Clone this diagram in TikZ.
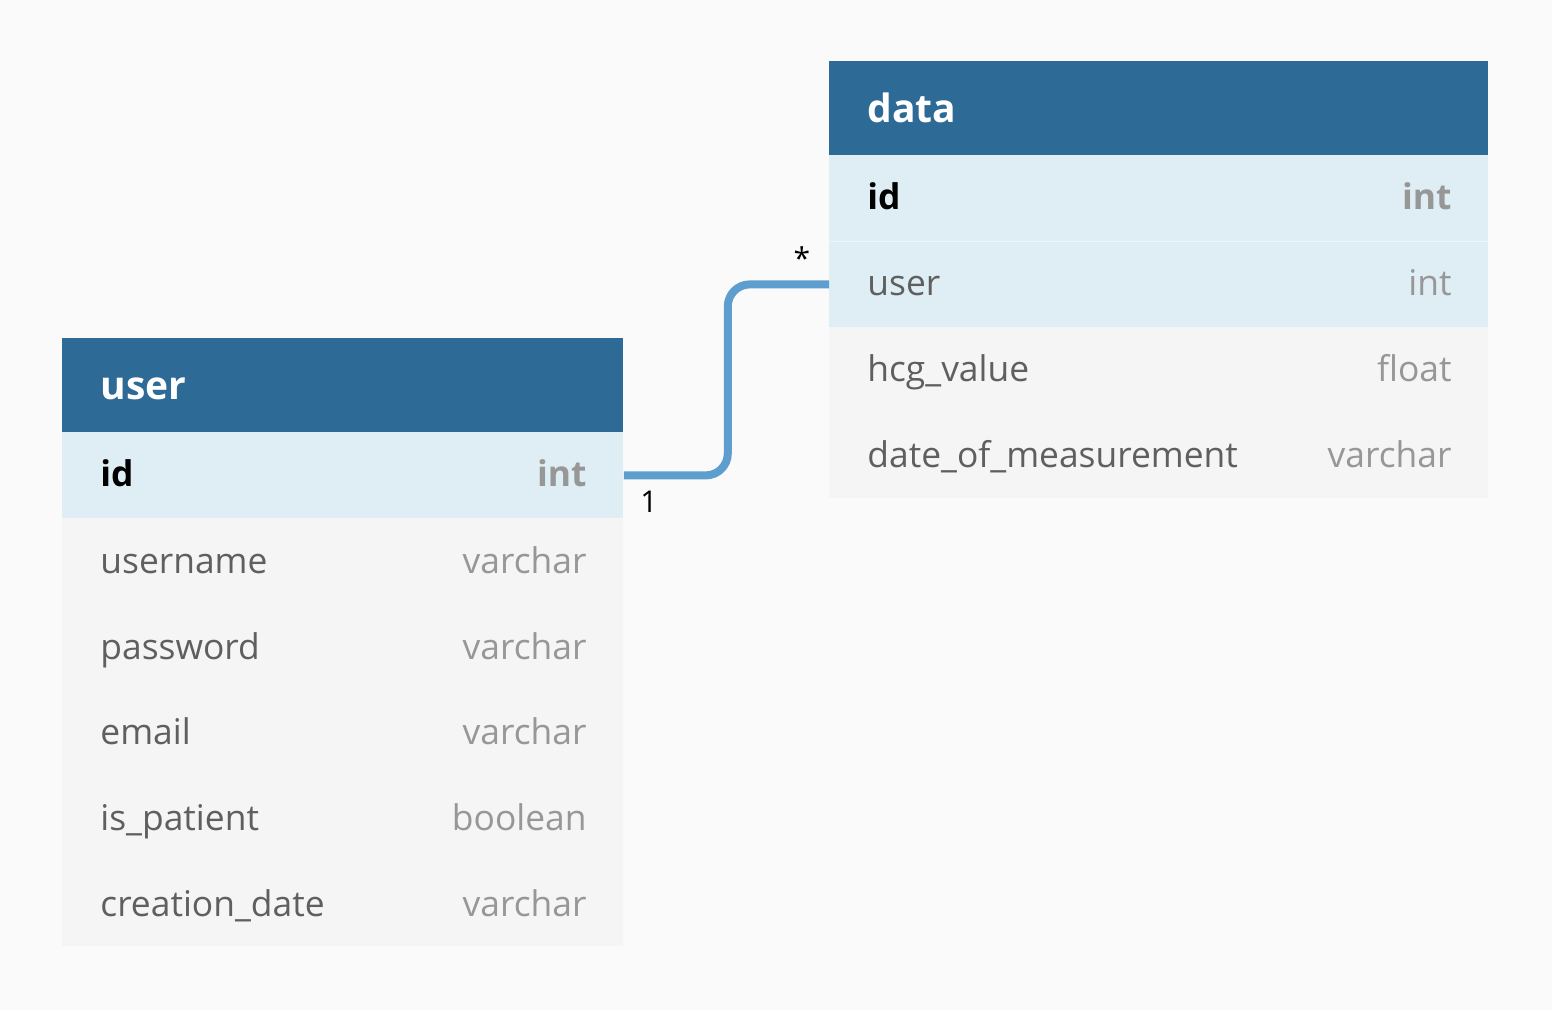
\documentclass[tikz,border=0pt]{standalone}
\usepackage{fontspec}
\setmainfont{Open Sans}
\definecolor{bgc}{HTML}{FAFAFA}
\definecolor{headc}{HTML}{2D6A96}
\definecolor{keyc}{HTML}{DFEDF4}
\definecolor{rowc}{HTML}{F5F5F5}
\definecolor{linkc}{HTML}{5E9ECE}
\definecolor{namec}{HTML}{5F5F5F}
\definecolor{typec}{HTML}{979797}
\tikzset{
  headbox/.style={fill=headc, draw=none, inner sep=0pt, anchor=north west, minimum height=47pt},
  keybox/.style={fill=keyc, draw=none, inner sep=0pt, anchor=north west, minimum height=43pt},
  rowbox/.style={fill=rowc, draw=none, inner sep=0pt, anchor=north west, minimum height=43pt},
  headtxt/.style={inner sep=0pt, anchor=base west, text=white, font=\fontsize{19.5pt}{22pt}\selectfont\bfseries},
  fname/.style={inner sep=0pt, anchor=base west, text=namec, font=\fontsize{17.7pt}{20pt}\selectfont},
  ftype/.style={inner sep=0pt, anchor=base east, text=typec, font=\fontsize{17.7pt}{20pt}\selectfont},
  pkname/.style={fname, text=black, font=\fontsize{17.7pt}{20pt}\selectfont\bfseries},
  pktype/.style={ftype, font=\fontsize{17.7pt}{20pt}\selectfont\bfseries},
  link/.style={draw=linkc, line width=4pt, rounded corners=11pt},
  card/.style={inner sep=0pt, anchor=base, text=black, font=\fontsize{15pt}{18pt}\selectfont},
}
\begin{document}
\begin{tikzpicture}[x=0.5pt, y=-0.5pt]
\fill[bgc] (0,0) rectangle (1552,1010);
\useasboundingbox (0,0) rectangle (1552,1010);
% user table
\node[headbox, minimum width=280.5pt] (uh) at (62,338) {};
\node[keybox, minimum width=280.5pt] (uid) at (62,432) {};
\node[rowbox, minimum width=280.5pt] (uusername) at (62,518) {};
\node[rowbox, minimum width=280.5pt] (upassword) at (62,604) {};
\node[rowbox, minimum width=280.5pt] (uemail) at (62,689) {};
\node[rowbox, minimum width=280.5pt] (upatient) at (62,775) {};
\node[rowbox, minimum width=280.5pt, minimum height=42.5pt] (ucreation) at (62,861) {};
\node[headtxt] (uht) at (100,400) {user};
\node[pkname] (uidn) at (100,487) {id};
\node[pktype] (uidt) at (587,487) {int};
\node[fname] (usernamen) at (100,573) {username};
\node[ftype] (usernamet) at (587,573) {varchar};
\node[fname] (upasswordn) at (100,659) {password};
\node[ftype] (upasswordt) at (587,659) {varchar};
\node[fname] (uemailn) at (100,744) {email};
\node[ftype] (uemailt) at (587,744) {varchar};
\node[fname] (upatientn) at (100,830) {is\_patient};
\node[ftype] (upatientt) at (587,830) {boolean};
\node[fname] (ucreationn) at (100,916) {creation\_date};
\node[ftype] (ucreationt) at (587,916) {varchar};
% data table
\node[headbox, minimum width=329.5pt] (dh) at (829,61) {};
\node[keybox, minimum width=329.5pt] (did) at (829,155) {};
\node[keybox, minimum width=329.5pt] (duser) at (829,241) {};
\node[rowbox, minimum width=329.5pt] (dhcg) at (829,327) {};
\node[rowbox, minimum width=329.5pt] (ddate) at (829,412) {};
\draw[draw=white, line width=0.5pt, opacity=0.5] (did.south west) -- (did.south east);
\node[headtxt] (dht) at (867,123) {data};
\node[pkname] (didn) at (867,210) {id};
\node[pktype] (didt) at (1452,210) {int};
\node[fname] (dusern) at (867,296) {user};
\node[ftype] (dusert) at (1452,296) {int};
\node[fname] (dhcgn) at (867,382) {hcg\_value};
\node[ftype] (dhcgt) at (1452,382) {float};
\node[fname] (ddaten) at (867,467) {date\_of\_measurement};
\node[ftype] (ddatet) at (1452,467) {varchar};
% connector
\draw[link] (uid.east) -- ++(104,0) |- (duser.west);
\node[card] (one) at (649,512) {1};
\node[card] (many) at (802,270) {*};
\end{tikzpicture}
\end{document}
